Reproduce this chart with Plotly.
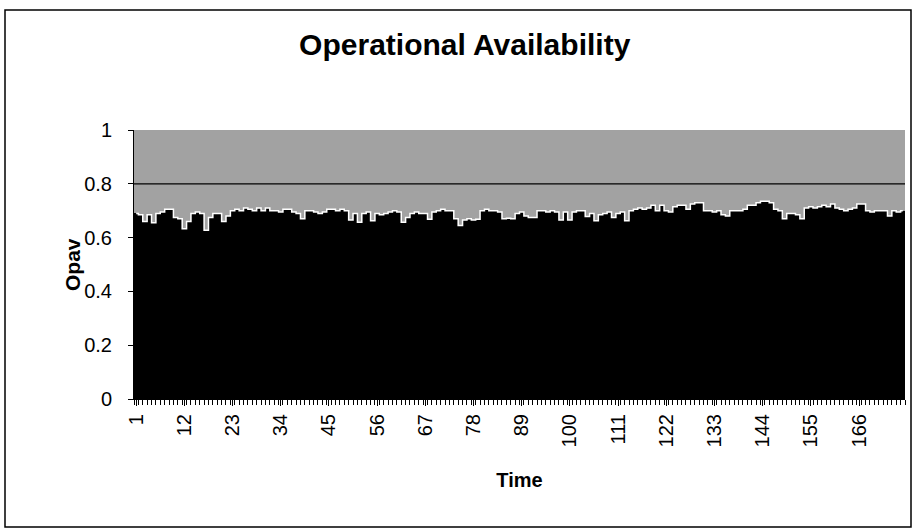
import plotly.graph_objects as go

# Time steps 1..176
time = list(range(1, 177))

# Operational availability per time step
opav = [
    0.69, 0.685, 0.66, 0.685, 0.655, 0.69, 0.695, 0.705, 0.705, 0.675,
    0.67, 0.633, 0.66, 0.69, 0.695, 0.69, 0.627, 0.675, 0.69, 0.69,
    0.66, 0.68, 0.70, 0.705, 0.70, 0.71, 0.705, 0.70, 0.71, 0.70,
    0.71, 0.70, 0.70, 0.695, 0.705, 0.705, 0.695, 0.69, 0.67, 0.70,
    0.70, 0.695, 0.69, 0.695, 0.705, 0.705, 0.70, 0.705, 0.70, 0.665,
    0.69, 0.657, 0.69, 0.695, 0.663, 0.69, 0.685, 0.69, 0.695,
    0.70, 0.695, 0.657, 0.675, 0.69, 0.695, 0.69, 0.69, 0.668, 0.695,
    0.70, 0.705, 0.70, 0.70, 0.67, 0.645, 0.665, 0.67, 0.665, 0.668,
    0.70, 0.705, 0.70, 0.70, 0.695, 0.67, 0.672, 0.67, 0.69, 0.695,
    0.68, 0.675, 0.675, 0.70, 0.70, 0.695, 0.70, 0.695, 0.665, 0.695,
    0.665, 0.695, 0.70, 0.70, 0.678, 0.69, 0.663, 0.685, 0.69, 0.695,
    0.675, 0.69, 0.695, 0.663, 0.70, 0.705, 0.71, 0.705, 0.71,
    0.72, 0.70, 0.72, 0.70, 0.695, 0.715, 0.72, 0.72, 0.705, 0.725,
    0.73, 0.73, 0.70, 0.70, 0.695, 0.70, 0.685, 0.68, 0.70, 0.70,
    0.70, 0.705, 0.72, 0.72, 0.73, 0.735, 0.735, 0.73, 0.705, 0.70,
    0.67, 0.69, 0.69, 0.685, 0.67, 0.71, 0.715, 0.71, 0.715, 0.72,
    0.715, 0.725, 0.71, 0.705, 0.70, 0.705, 0.71, 0.725, 0.725, 0.70,
    0.695, 0.70, 0.70, 0.70, 0.68, 0.70, 0.695, 0.70,
]

target = 0.8
x_ticks = list(range(1, 177, 11))
y_ticks = [0, 0.2, 0.4, 0.6, 0.8, 1]
y_labels = ["0", "0.2", "0.4", "0.6", "0.8", "1"]

fig = go.Figure()
fig.add_trace(go.Bar(x=time, y=opav, marker=dict(color="black", line=dict(width=0)),
                     showlegend=False))
fig.add_trace(go.Scatter(x=time, y=opav, mode="lines", line=dict(color="white", width=1.5, shape="hvh"),
                         showlegend=False, hoverinfo="skip"))

font_family = "Liberation Sans, Arial, sans-serif"

fig.update_layout(
    width=913, height=529,
    margin=dict(l=134, r=8, t=130, b=130),
    paper_bgcolor="white",
    plot_bgcolor="#a2a2a2",
    bargap=0,
    font=dict(family=font_family, color="black", size=19),
    title=dict(text="<b>Operational Availability</b>", x=0.509, xref="container", xanchor="center",
               y=1 - 44 / 529, yref="container", yanchor="middle", font=dict(size=30, family=font_family)),
    xaxis=dict(
        range=[0.5, 176.5], tickmode="array", tickvals=x_ticks, ticktext=[str(v) for v in x_ticks],
        tickangle=-90, ticks="outside", ticklen=6, tickcolor="black",
        showline=True, linecolor="black", linewidth=1, showgrid=False, zeroline=False,
        minor=dict(dtick=1, tick0=0.5, ticks="outside", ticklen=5, tickcolor="black", showgrid=False),
        title=dict(text="<b>Time</b>", font=dict(size=20), standoff=26),
        tickfont=dict(size=20),
    ),
    yaxis=dict(
        range=[0, 1], tickmode="array", tickvals=y_ticks, ticktext=y_labels,
        ticks="outside", ticklen=5, tickcolor="black", ticklabelstandoff=12,
        showline=True, linecolor="black", linewidth=1, showgrid=False, zeroline=False,
        tickfont=dict(size=20),
    ),
    annotations=[dict(text="<b>Opav</b>", xref="paper", yref="paper",
                      x=(72 - 134) / 771, y=(399 - 265) / 269, xanchor="center", yanchor="middle",
                      textangle=-90, showarrow=False, font=dict(size=21))],
)

fig.add_hline(y=target, line=dict(color="black", width=1.2))
fig.add_shape(type="rect", xref="paper", yref="paper",
              x0=(5 - 134) / 771, x1=(911 - 134) / 771,
              y0=-(527 - 399) / 269, y1=(399 - 10) / 269,
              line=dict(color="black", width=1.5), fillcolor="rgba(0,0,0,0)", layer="below")

fig.write_html("out.html", config={"displayModeBar": False},
               post_script="document.body.style.margin='0';document.body.style.overflow='hidden';")
